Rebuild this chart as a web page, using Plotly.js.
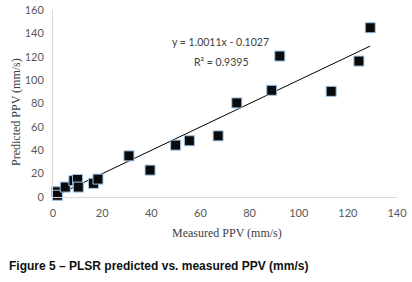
<!DOCTYPE html>
<html>
<head>
<meta charset="utf-8">
<script src="https://cdn.plot.ly/plotly-3.0.1.min.js"></script>
<style>html,body{margin:0;padding:0;background:#fff;}#chart{width:412px;height:282px;}</style>
</head>
<body>
<div id="chart"></div>
<script>
// Measured vs predicted PPV (mm/s)
var measured  = [1.5, 1.8, 5.0, 8.5, 10.0, 10.3, 16.5, 18.3, 30.9, 39.5, 49.9, 55.5, 67.2, 74.8, 89.0, 92.3, 113.2, 124.5, 129.1];
var predicted = [4.5, 1.5, 8.5, 14.0, 15.0, 8.5, 11.7, 15.3, 35.2, 23.0, 44.4, 48.1, 52.3, 80.5, 91.3, 120.6, 90.4, 116.3, 144.8];
// Linear trendline shown on the chart: y = 1.0011x - 0.1027
var trendSlope = 1.0011;
var trendIntercept = -0.1027;
var trendX = [Math.min.apply(null, measured), Math.max.apply(null, measured)];
var trendY = trendX.map(function (x) { return trendSlope * x + trendIntercept; });
var xTicks = [0, 20, 40, 60, 80, 100, 120, 140];
var yTicks = [0, 20, 40, 60, 80, 100, 120, 140, 160];
var eqText = "y = 1.0011x - 0.1027";
var r2Text = "R² = 0.9395";
var xTitle = "Measured PPV (mm/s)";
var yTitle = "Predicted PPV (mm/s)";
var caption = "Figure 5 – PLSR predicted vs. measured PPV (mm/s)";

var tickFont = {family: "Lato, 'Open Sans', sans-serif", size: 11, color: "#595959"};
var titleFont = {family: "'Liberation Serif', 'DejaVu Serif', serif", size: 12, color: "#404040"};

var data = [
  {
    x: trendX, y: trendY, type: "scatter", mode: "lines",
    line: {color: "#000000", width: 1}, hoverinfo: "skip", cliponaxis: false
  },
  {
    x: measured, y: predicted, type: "scatter", mode: "markers",
    marker: {symbol: "square", size: 10, color: "#0a0a0a", line: {color: "#9dc3e6", width: 1}},
    cliponaxis: false
  }
];

var layout = {
  width: 412, height: 282,
  margin: {l: 53, r: 15, t: 10, b: 85, pad: 0},
  paper_bgcolor: "#ffffff", plot_bgcolor: "#ffffff",
  showlegend: false,
  xaxis: {
    range: [0, 140], tickvals: xTicks, ticktext: xTicks.map(String),
    showgrid: false, zeroline: false, showline: true, linecolor: "#d9d9d9", linewidth: 1,
    ticks: "", tickfont: tickFont, ticklabelstandoff: 6, fixedrange: true
  },
  yaxis: {
    range: [0, 160], tickvals: yTicks, ticktext: yTicks.map(String),
    showgrid: false, zeroline: false, showline: true, linecolor: "#d9d9d9", linewidth: 1,
    ticks: "", tickfont: tickFont, ticklabelstandoff: 6, fixedrange: true
  },
  annotations: [
    {text: eqText, xref: "paper", yref: "paper", x: 0.487, y: 0.8305, xanchor: "center", yanchor: "middle",
     showarrow: false, font: {family: "Lato, 'Open Sans', sans-serif", size: 10.5, color: "#404040"}},
    {text: r2Text, xref: "paper", yref: "paper", x: 0.488, y: 0.720, xanchor: "center", yanchor: "middle",
     showarrow: false, font: {family: "Lato, 'Open Sans', sans-serif", size: 10.5, color: "#404040"}},
    {text: xTitle, xref: "paper", yref: "paper", x: 0.505, y: -0.1925, xanchor: "center", yanchor: "middle",
     showarrow: false, font: titleFont},
    {text: yTitle, xref: "paper", yref: "paper", x: -0.1076, y: 0.4545, xanchor: "center", yanchor: "middle",
     textangle: -90, showarrow: false, font: titleFont},
    {text: "<b>" + caption + "</b>", xref: "paper", yref: "paper", x: -0.1337, y: -0.369, xanchor: "left", yanchor: "middle",
     showarrow: false, font: {family: "'Liberation Sans', Arial, sans-serif", size: 12, color: "#111111"}}
  ]
};

Plotly.newPlot("chart", data, layout, {displayModeBar: false, staticPlot: true});
</script>
</body>
</html>
